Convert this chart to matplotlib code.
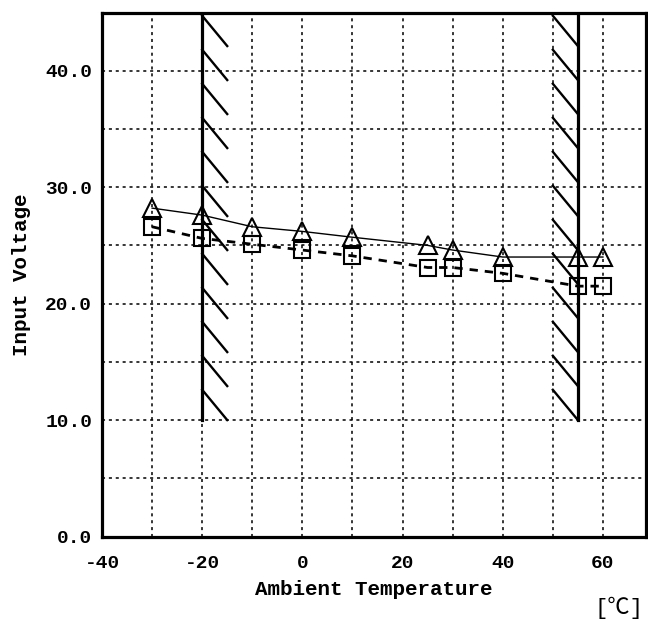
import numpy as np
import matplotlib.pyplot as plt
from matplotlib.ticker import MultipleLocator

# measured points (temperature in degC, input voltage)
temps = [-30, -20, -10, 0, 10, 25, 30, 40, 55, 60]
v_triangle = [28.2, 27.6, 26.6, 26.2, 25.7, 25.0, 24.6, 24.0, 24.0, 24.0]
v_square = [26.6, 25.6, 25.1, 24.6, 24.1, 23.1, 23.1, 22.6, 21.5, 21.5]

x_ticks = [-40, -20, 0, 20, 40, 60]
x_tick_labels = ['-40', '-20', '0', '20', '40', '60']
y_ticks = [0, 10, 20, 30, 40]
y_tick_labels = ['0.0', '10.0', '20.0', '30.0', '40.0']

# operating range limits (hatched)
low_limit = -20
high_limit = 55
band_bottom = 10
band_top = 45

FONT = ['Liberation Mono', 'Noto Sans CJK SC', 'DejaVu Sans']
plt.rcParams['font.family'] = FONT
plt.rcParams['font.weight'] = 'bold'
plt.rcParams['axes.labelweight'] = 'bold'


def hatch_band(ax, x_line, x_other):
    # solid boundary line plus diagonal strokes on one side
    ax.plot([x_line, x_line], [band_bottom, band_top], color='black', lw=2.3, zorder=3)
    for y0 in np.arange(band_bottom, band_top, 2.92):
        xs = [min(x_line, x_other), max(x_line, x_other)]
        ax.plot(xs, [y0 + 2.6, y0], color='black', lw=1.7, zorder=3)


fig = plt.figure(figsize=(6.48, 6.2), dpi=100)
ax = fig.add_axes([102 / 648, 83.5 / 620, 544 / 648, 524 / 620])

ax.set_xlim(-40, 68.6)
ax.set_ylim(0, 45)

ax.xaxis.set_minor_locator(MultipleLocator(10))
ax.yaxis.set_minor_locator(MultipleLocator(5))
ax.set_xticks(x_ticks)
ax.set_xticklabels(x_tick_labels, fontsize=14)
ax.set_yticks(y_ticks)
ax.set_yticklabels(y_tick_labels, fontsize=14)
ax.tick_params(which='both', length=0)
ax.tick_params(axis='x', pad=13)
ax.tick_params(axis='y', pad=7)
ax.grid(which='both', color='black', linestyle=(0, (2, 2.5)), linewidth=1.1)

hatch_band(ax, low_limit, low_limit + 5)
hatch_band(ax, high_limit, high_limit - 5)

ax.plot(temps, v_triangle, color='black', lw=1.0, marker='^', markersize=13,
        markerfacecolor='none', markeredgecolor='black', markeredgewidth=1.5, zorder=4)
ax.plot(temps, v_square, color='black', lw=2.0, linestyle=(0, (3, 2.5)), marker='s',
        markersize=12, markerfacecolor='none', markeredgecolor='black',
        markeredgewidth=1.5, zorder=4)

for s in ax.spines.values():
    s.set_linewidth(2.3)

ax.set_xlabel('Ambient Temperature', fontsize=15, labelpad=6)
ax.set_ylabel('Input Voltage', fontsize=15, labelpad=10)
fig.text(619 / 648, 1 - 608 / 620, '[℃]', fontsize=16, fontweight='normal',
         ha='center', va='center')

fig.savefig('out.png', dpi=100)
